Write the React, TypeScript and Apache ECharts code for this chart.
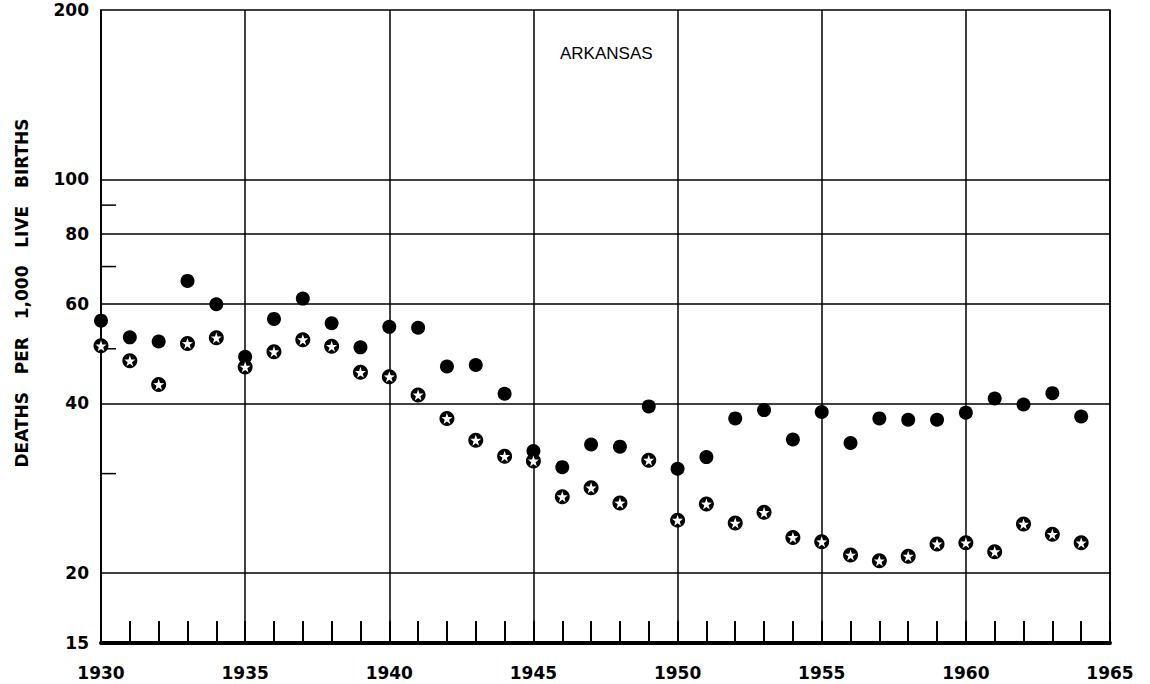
import React, { useEffect, useRef } from "react";
import * as echarts from "echarts";

const years = [
  1930, 1931, 1932, 1933, 1934, 1935, 1936, 1937, 1938, 1939,
  1940, 1941, 1942, 1943, 1944, 1945, 1946, 1947, 1948, 1949,
  1950, 1951, 1952, 1953, 1954, 1955, 1956, 1957, 1958, 1959,
  1960, 1961, 1962, 1963, 1964,
];
const filledRates = [
  56.1, 52.4, 51.5, 66.0, 60.0, 48.4, 56.5, 61.4, 55.5, 50.3,
  54.7, 54.5, 46.5, 46.8, 41.6, 32.9, 30.8, 33.8, 33.5, 39.5,
  30.6, 32.1, 37.6, 38.9, 34.5, 38.6, 34.0, 37.6, 37.4, 37.4,
  38.5, 40.8, 39.8, 41.7, 37.9,
];
const starRates = [
  50.6, 47.6, 43.2, 51.1, 52.3, 46.4, 49.4, 51.9, 50.5, 45.4,
  44.6, 41.4, 37.6, 34.4, 32.2, 31.6, 27.3, 28.3, 26.6, 31.7,
  24.8, 26.5, 24.5, 25.6, 23.1, 22.7, 21.5, 21.0, 21.4, 22.5,
  22.6, 21.8, 24.4, 23.4, 22.6,
];
const yLabelValues = [15, 20, 40, 60, 80, 100, 200];
const yGridValues = [20, 40, 60, 80, 100];
const yMinorTicks = [30, 50, 70, 90];
const xMin = 1930;
const xMax = 1965;
const yMin = 15;
const yMax = 200;
const title = "ARKANSAS";
const yTitle = "DEATHS   PER   1,000   LIVE   BIRTHS";

const STAR =
  "path://M0,-10 L2.35,-3.24 L9.51,-3.09 L3.8,1.24 L5.88,8.09 L0,4 L-5.88,8.09 L-3.8,1.24 L-9.51,-3.09 L-2.35,-3.24 Z";

export default function App() {
  const ref = useRef<HTMLDivElement>(null);
  useEffect(() => {
    if (!ref.current) return;
    const chart = echarts.init(ref.current, null, { renderer: "svg" });
    const filled = years.map((y, i) => [y, filledRates[i]]);
    const stars = years.map((y, i) => [y, starRates[i]]);
    const labelFont = {
      fontFamily: "DejaVu Sans",
      fontWeight: "bold" as const,
      fontSize: 17,
      color: "#000",
    };
    chart.setOption({
      animation: false,
      backgroundColor: "#fff",
      grid: {
        left: 101,
        right: 40,
        top: 10,
        bottom: 41,
        show: true,
        borderColor: "#000",
        borderWidth: 1.5,
        backgroundColor: "transparent",
      },
      xAxis: [
        {
          type: "value",
          min: xMin,
          max: xMax,
          interval: 5,
          position: "bottom",
          axisLine: { show: true, lineStyle: { color: "#000", width: 4 } },
          axisTick: { show: false },
          axisLabel: { ...labelFont, margin: 21, formatter: (v: number) => String(v) },
          splitLine: { show: true, lineStyle: { color: "#000", width: 1.5 } },
        },
        {
          type: "value",
          min: xMin,
          max: xMax,
          interval: 1,
          position: "bottom",
          offset: 0,
          axisLine: { show: false },
          axisTick: { show: true, inside: true, length: 22, lineStyle: { color: "#000", width: 2 } },
          axisLabel: { show: false },
          splitLine: { show: false },
        },
      ],
      yAxis: {
        type: "log",
        logBase: 10,
        min: yMin,
        max: yMax,
        axisLine: { show: true, lineStyle: { color: "#000", width: 1.5 } },
        axisTick: { show: false },
        axisLabel: { show: false },
        splitLine: { show: false },
        minorTick: { show: false },
      },
      graphic: [
        {
          type: "text",
          left: 560,
          top: 45,
          style: {
            text: title,
            fontFamily: "Liberation Sans",
            fontSize: 17,
            fill: "#000",
          },
        },
        {
          type: "text",
          x: 22,
          y: 293,
          rotation: Math.PI / 2,
          style: {
            text: yTitle,
            fontFamily: "DejaVu Sans",
            fontWeight: "bold",
            fontSize: 17,
            fill: "#000",
            align: "center",
            verticalAlign: "middle",
          },
        },
      ],
      series: [
        {
          type: "custom",
          xAxisIndex: 0,
          coordinateSystem: "cartesian2d",
          data: yMinorTicks.map((v) => [xMin, v]),
          silent: true,
          renderItem: (_p: any, api: any) => {
            const pt = api.coord([api.value(0), api.value(1)]);
            return {
              type: "line",
              shape: { x1: pt[0], y1: pt[1], x2: pt[0] + 15, y2: pt[1] },
              style: { stroke: "#000", lineWidth: 1.5 },
            };
          },
          z: 3,
        },
        {
          type: "line",
          xAxisIndex: 0,
          data: [],
          markLine: {
            silent: true,
            symbol: "none",
            animation: false,
            lineStyle: { color: "#000", width: 1.5, type: "solid" },
            label: {
              show: true,
              position: "start",
              distance: 12,
              ...labelFont,
              formatter: (p: any) => String(p.value),
            },
            data: yLabelValues.map((v) => ({
              yAxis: v,
              lineStyle: yGridValues.includes(v) ? undefined : { width: 0 },
            })),
          },
        },
        {
          type: "scatter",
          xAxisIndex: 0,
          data: filled,
          symbol: "circle",
          symbolSize: 14,
          itemStyle: { color: "#000", opacity: 1 },
          z: 5,
        },
        {
          type: "scatter",
          xAxisIndex: 0,
          data: stars,
          symbol: "circle",
          symbolSize: 15,
          itemStyle: { color: "#000", opacity: 1 },
          z: 5,
        },
        {
          type: "scatter",
          xAxisIndex: 0,
          data: stars,
          symbol: STAR,
          symbolSize: 11,
          itemStyle: { color: "#fff", opacity: 1 },
          z: 6,
        },
      ],
    });
    return () => chart.dispose();
  }, []);
  return (
    <div
      ref={ref}
      style={{ position: "absolute", left: 0, top: 0, width: 1150, height: 684 }}
    />
  );
}
